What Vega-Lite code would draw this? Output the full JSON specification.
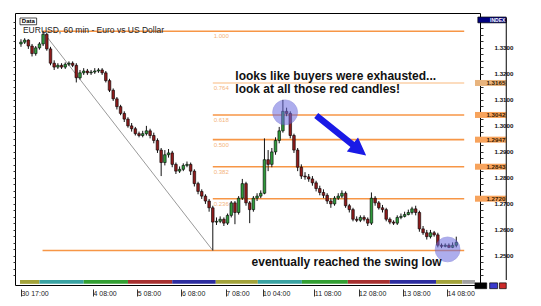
{
"$schema":"https://vega.github.io/schema/vega-lite/v6.json",
"width":465,"height":272,
"autosize":{"type":"none"},
"padding":{"left":15,"top":13,"right":61,"bottom":21},
"background":"white",
"config":{"view":{"stroke":"#000","strokeWidth":1},"font":"Liberation Sans"},
"resolve":{"scale":{"color":"independent"},"axis":{"x":"independent","y":"independent"}},
"datasets":{
"candles":[
{"i":0,"o":1.3315,"h":1.3333,"l":1.3304,"c":1.3322},
{"i":2,"o":1.3322,"h":1.3337,"l":1.3315,"c":1.3330},
{"i":4,"o":1.3330,"h":1.3333,"l":1.3296,"c":1.3307},
{"i":6,"o":1.3307,"h":1.3315,"l":1.3267,"c":1.3278},
{"i":8,"o":1.3278,"h":1.3307,"l":1.3270,"c":1.3300},
{"i":10,"o":1.3300,"h":1.3322,"l":1.3293,"c":1.3315},
{"i":12,"o":1.3315,"h":1.3364,"l":1.3307,"c":1.3352},
{"i":14,"o":1.3352,"h":1.3359,"l":1.3289,"c":1.3296},
{"i":16,"o":1.3296,"h":1.3304,"l":1.3233,"c":1.3241},
{"i":18,"o":1.3241,"h":1.3252,"l":1.3215,"c":1.3226},
{"i":20,"o":1.3226,"h":1.3241,"l":1.3219,"c":1.3233},
{"i":22,"o":1.3233,"h":1.3241,"l":1.3219,"c":1.3226},
{"i":24,"o":1.3226,"h":1.3244,"l":1.3219,"c":1.3237},
{"i":26,"o":1.3237,"h":1.3248,"l":1.3230,"c":1.3241},
{"i":28,"o":1.3241,"h":1.3248,"l":1.3226,"c":1.3233},
{"i":30,"o":1.3233,"h":1.3241,"l":1.3167,"c":1.3185},
{"i":32,"o":1.3185,"h":1.3215,"l":1.3178,"c":1.3204},
{"i":34,"o":1.3204,"h":1.3222,"l":1.3196,"c":1.3211},
{"i":36,"o":1.3211,"h":1.3219,"l":1.3196,"c":1.3204},
{"i":38,"o":1.3204,"h":1.3215,"l":1.3196,"c":1.3207},
{"i":40,"o":1.3207,"h":1.3222,"l":1.3200,"c":1.3211},
{"i":42,"o":1.3211,"h":1.3222,"l":1.3204,"c":1.3215},
{"i":44,"o":1.3215,"h":1.3222,"l":1.3196,"c":1.3204},
{"i":46,"o":1.3204,"h":1.3211,"l":1.3167,"c":1.3174},
{"i":48,"o":1.3174,"h":1.3181,"l":1.3130,"c":1.3137},
{"i":50,"o":1.3137,"h":1.3144,"l":1.3096,"c":1.3104},
{"i":52,"o":1.3104,"h":1.3111,"l":1.3063,"c":1.3074},
{"i":54,"o":1.3074,"h":1.3081,"l":1.3041,"c":1.3048},
{"i":56,"o":1.3048,"h":1.3056,"l":1.3015,"c":1.3026},
{"i":58,"o":1.3026,"h":1.3033,"l":1.2993,"c":1.3000},
{"i":60,"o":1.3000,"h":1.3011,"l":1.2978,"c":1.2989},
{"i":62,"o":1.2989,"h":1.2996,"l":1.2963,"c":1.2970},
{"i":64,"o":1.2970,"h":1.2978,"l":1.2956,"c":1.2963},
{"i":66,"o":1.2963,"h":1.2981,"l":1.2956,"c":1.2970},
{"i":68,"o":1.2970,"h":1.3000,"l":1.2963,"c":1.2981},
{"i":70,"o":1.2981,"h":1.2989,"l":1.2952,"c":1.2963},
{"i":72,"o":1.2963,"h":1.2974,"l":1.2933,"c":1.2944},
{"i":74,"o":1.2944,"h":1.2952,"l":1.2896,"c":1.2907},
{"i":76,"o":1.2907,"h":1.2915,"l":1.2807,"c":1.2859},
{"i":78,"o":1.2859,"h":1.2907,"l":1.2848,"c":1.2889},
{"i":80,"o":1.2889,"h":1.2911,"l":1.2878,"c":1.2896},
{"i":82,"o":1.2896,"h":1.2904,"l":1.2841,"c":1.2852},
{"i":84,"o":1.2852,"h":1.2859,"l":1.2815,"c":1.2826},
{"i":86,"o":1.2826,"h":1.2844,"l":1.2819,"c":1.2833},
{"i":88,"o":1.2833,"h":1.2856,"l":1.2826,"c":1.2848},
{"i":90,"o":1.2848,"h":1.2863,"l":1.2841,"c":1.2852},
{"i":92,"o":1.2852,"h":1.2859,"l":1.2811,"c":1.2826},
{"i":94,"o":1.2826,"h":1.2833,"l":1.2767,"c":1.2778},
{"i":96,"o":1.2778,"h":1.2785,"l":1.2737,"c":1.2748},
{"i":98,"o":1.2748,"h":1.2756,"l":1.2719,"c":1.2730},
{"i":100,"o":1.2730,"h":1.2737,"l":1.2700,"c":1.2711},
{"i":102,"o":1.2711,"h":1.2719,"l":1.2670,"c":1.2685},
{"i":104,"o":1.2685,"h":1.2693,"l":1.2521,"c":1.2630},
{"i":106,"o":1.2630,"h":1.2648,"l":1.2619,"c":1.2633},
{"i":108,"o":1.2633,"h":1.2652,"l":1.2626,"c":1.2641},
{"i":110,"o":1.2641,"h":1.2648,"l":1.2615,"c":1.2626},
{"i":112,"o":1.2626,"h":1.2663,"l":1.2619,"c":1.2656},
{"i":114,"o":1.2656,"h":1.2711,"l":1.2648,"c":1.2704},
{"i":116,"o":1.2704,"h":1.2711,"l":1.2622,"c":1.2667},
{"i":118,"o":1.2667,"h":1.2730,"l":1.2659,"c":1.2722},
{"i":120,"o":1.2722,"h":1.2796,"l":1.2715,"c":1.2778},
{"i":122,"o":1.2778,"h":1.2785,"l":1.2693,"c":1.2704},
{"i":124,"o":1.2704,"h":1.2711,"l":1.2626,"c":1.2678},
{"i":126,"o":1.2678,"h":1.2730,"l":1.2670,"c":1.2722},
{"i":128,"o":1.2722,"h":1.2741,"l":1.2711,"c":1.2730},
{"i":130,"o":1.2730,"h":1.2752,"l":1.2722,"c":1.2741},
{"i":132,"o":1.2741,"h":1.2952,"l":1.2737,"c":1.2870},
{"i":134,"o":1.2870,"h":1.2907,"l":1.2826,"c":1.2852},
{"i":136,"o":1.2852,"h":1.2915,"l":1.2841,"c":1.2900},
{"i":138,"o":1.2900,"h":1.2956,"l":1.2889,"c":1.2944},
{"i":140,"o":1.2944,"h":1.2996,"l":1.2933,"c":1.2981},
{"i":142,"o":1.2981,"h":1.3100,"l":1.2974,"c":1.3056},
{"i":144,"o":1.3056,"h":1.3070,"l":1.3037,"c":1.3048},
{"i":146,"o":1.3048,"h":1.3056,"l":1.2952,"c":1.2963},
{"i":148,"o":1.2963,"h":1.2970,"l":1.2896,"c":1.2907},
{"i":150,"o":1.2907,"h":1.2915,"l":1.2826,"c":1.2841},
{"i":152,"o":1.2841,"h":1.2852,"l":1.2796,"c":1.2807},
{"i":154,"o":1.2807,"h":1.2822,"l":1.2793,"c":1.2804},
{"i":156,"o":1.2804,"h":1.2815,"l":1.2785,"c":1.2796},
{"i":158,"o":1.2796,"h":1.2807,"l":1.2770,"c":1.2781},
{"i":160,"o":1.2781,"h":1.2789,"l":1.2748,"c":1.2759},
{"i":162,"o":1.2759,"h":1.2770,"l":1.2733,"c":1.2744},
{"i":164,"o":1.2744,"h":1.2756,"l":1.2722,"c":1.2733},
{"i":166,"o":1.2733,"h":1.2741,"l":1.2700,"c":1.2711},
{"i":168,"o":1.2711,"h":1.2722,"l":1.2685,"c":1.2700},
{"i":170,"o":1.2700,"h":1.2730,"l":1.2693,"c":1.2722},
{"i":172,"o":1.2722,"h":1.2741,"l":1.2715,"c":1.2730},
{"i":174,"o":1.2730,"h":1.2752,"l":1.2722,"c":1.2741},
{"i":176,"o":1.2741,"h":1.2748,"l":1.2685,"c":1.2693},
{"i":178,"o":1.2693,"h":1.2700,"l":1.2667,"c":1.2678},
{"i":180,"o":1.2678,"h":1.2685,"l":1.2633,"c":1.2641},
{"i":182,"o":1.2641,"h":1.2652,"l":1.2630,"c":1.2637},
{"i":184,"o":1.2637,"h":1.2656,"l":1.2630,"c":1.2648},
{"i":186,"o":1.2648,"h":1.2656,"l":1.2633,"c":1.2641},
{"i":188,"o":1.2641,"h":1.2648,"l":1.2615,"c":1.2626},
{"i":190,"o":1.2626,"h":1.2744,"l":1.2619,"c":1.2722},
{"i":192,"o":1.2722,"h":1.2730,"l":1.2693,"c":1.2704},
{"i":194,"o":1.2704,"h":1.2711,"l":1.2678,"c":1.2685},
{"i":196,"o":1.2685,"h":1.2696,"l":1.2667,"c":1.2678},
{"i":198,"o":1.2678,"h":1.2685,"l":1.2633,"c":1.2641},
{"i":200,"o":1.2641,"h":1.2648,"l":1.2622,"c":1.2630},
{"i":202,"o":1.2630,"h":1.2637,"l":1.2619,"c":1.2626},
{"i":204,"o":1.2626,"h":1.2656,"l":1.2619,"c":1.2648},
{"i":206,"o":1.2648,"h":1.2663,"l":1.2641,"c":1.2652},
{"i":208,"o":1.2652,"h":1.2670,"l":1.2648,"c":1.2659},
{"i":210,"o":1.2659,"h":1.2678,"l":1.2656,"c":1.2667},
{"i":212,"o":1.2667,"h":1.2689,"l":1.2659,"c":1.2681},
{"i":214,"o":1.2681,"h":1.2693,"l":1.2656,"c":1.2667},
{"i":216,"o":1.2667,"h":1.2674,"l":1.2593,"c":1.2604},
{"i":218,"o":1.2604,"h":1.2615,"l":1.2581,"c":1.2589},
{"i":220,"o":1.2589,"h":1.2600,"l":1.2563,"c":1.2574},
{"i":222,"o":1.2574,"h":1.2600,"l":1.2567,"c":1.2589},
{"i":224,"o":1.2589,"h":1.2596,"l":1.2574,"c":1.2581},
{"i":226,"o":1.2581,"h":1.2589,"l":1.2533,"c":1.2541},
{"i":228,"o":1.2541,"h":1.2548,"l":1.2530,"c":1.2537},
{"i":230,"o":1.2537,"h":1.2548,"l":1.2533,"c":1.2541},
{"i":232,"o":1.2541,"h":1.2548,"l":1.2530,"c":1.2533},
{"i":234,"o":1.2533,"h":1.2552,"l":1.2530,"c":1.2541},
{"i":236,"o":1.2541,"h":1.2574,"l":1.2533,"c":1.2552}
],
"band":[
{"x1":-0.53,"x2":10,"day":"fri"},{"x1":10,"x2":34,"day":"mon"},{"x1":34,"x2":58,"day":"tue"},{"x1":58,"x2":82,"day":"wed"},{"x1":82,"x2":105.6,"day":"thu"},{"x1":105.6,"x2":128.4,"day":"fri"},{"x1":128.4,"x2":152.3,"day":"mon"},{"x1":152.3,"x2":177.2,"day":"tue"},{"x1":177.2,"x2":200,"day":"wed"},{"x1":200,"x2":225,"day":"thu"},{"x1":225,"x2":239.3,"day":"fri"},{"x1":239.3,"x2":246.15,"day":"fut"}
],
"fib":[
{"level":"1.000","price":1.3364,"x1":11.7,"x2":240.3},
{"level":"0.764","price":1.3165,"x1":104,"x2":240.3},
{"level":"0.618","price":1.3042,"x1":104,"x2":240.3},
{"level":"0.500","price":1.2947,"x1":104,"x2":240.3},
{"level":"0.382","price":1.2843,"x1":104,"x2":240.3},
{"level":"0.236","price":1.2720,"x1":104,"x2":240.3},
{"level":"0.000","price":1.2521,"x1":11.7,"x2":240.3}
],
"tags":[
{"level":"0.764","price":1.3165,"t":"1.3165"},
{"level":"0.618","price":1.3042,"t":"1.3042"},
{"level":"0.500","price":1.2947,"t":"1.2947"},
{"level":"0.382","price":1.2843,"t":"1.2843"},
{"level":"0.236","price":1.2720,"t":"1.2720"}
],
"trend":[{"x1":11.7,"p1":1.3364,"x2":104,"p2":1.2521}],
"circles":[{"x":143.2,"p":1.3052},{"x":231.3,"p":1.2525}],
"arrow":[{"x":173.6,"p":1.2963}],
"notes":[
{"t":"looks like buyers were exhausted...","x":116.2,"p":1.31767},
{"t":"look at all those red candles!","x":116.2,"p":1.3127},
{"t":"eventually reached the swing low","x":125.0,"p":1.2463}
],
"boxes":[
{"kind":"index","x1":247.7,"x2":263.1,"p1":1.34185,"p2":1.33963},
{"kind":"data","x1":-0.53,"x2":8.49,"p1":1.34148,"p2":1.33889},
{"kind":"black","x1":246.15,"x2":252.5,"p1":1.23963,"p2":1.23741},
{"kind":"blue","x1":254.1,"x2":258.4,"p1":1.23963,"p2":1.23741},
{"kind":"red","x1":259.4,"x2":263.1,"p1":1.23963,"p2":1.23741}
]
},
"layer":[
{"data":{"name":"band"},"mark":{"type":"rect"},
"encoding":{
"x":{"field":"x1","type":"quantitative","scale":{"domain":[-0.53,246.15],"nice":false,"zero":false},
 "axis":{"values":[0,39,63,87,111,131,159,183,207,231],"labelExpr":"datum.value==0?'30 17:00':datum.value==39?'4 08:00':datum.value==63?'5 08:00':datum.value==87?'6 08:00':datum.value==111?'7 08:00':datum.value==131?'10 04:00':datum.value==159?'11 08:00':datum.value==183?'12 08:00':datum.value==207?'13 08:00':'14 08:00'",
 "title":null,"domain":false,"grid":false,"offset":4,"tickSize":7,"tickColor":"#333","labelPadding":-7,"labelAlign":"left","labelDx":2,"labelBaseline":"top","labelFontSize":7,"labelColor":"#222","labelOverlap":false,"labelFlush":false}},
"x2":{"field":"x2"},
"y":{"datum":1.24074,"type":"quantitative","scale":{"domain":[1.24074,1.34148],"nice":false,"zero":false},"axis":null},
"y2":{"datum":1.23926},
"color":{"field":"day","type":"nominal","scale":{"domain":["fri","mon","tue","wed","thu","fut"],"range":["#a3a33a","#3aa3a3","#33a033","#a83030","#2d2da0","#a0a0a0"]},"legend":null}}},
{"data":{"name":"fib"},"mark":{"type":"rule","strokeWidth":1.6},
"encoding":{
"x":{"field":"x1","type":"quantitative","scale":{"domain":[-0.53,246.15],"nice":false,"zero":false},"axis":null},
"x2":{"field":"x2"},
"y":{"field":"price","type":"quantitative","scale":{"domain":[1.24074,1.34148],"nice":false,"zero":false},"axis":null},
"color":{"field":"level","type":"nominal","scale":{"domain":["1.000","0.764","0.618","0.500","0.382","0.236","0.000"],"range":["#f79646","#fbd0a8","#f79646","#f79646","#f79646","#f79646","#f79646"]},"legend":null}}},
{"data":{"name":"trend"},"mark":{"type":"rule","color":"#9a9a9a","strokeWidth":1},
"encoding":{
"x":{"field":"x1","type":"quantitative","scale":{"domain":[-0.53,246.15],"nice":false,"zero":false},"axis":null},
"x2":{"field":"x2"},
"y":{"field":"p1","type":"quantitative","scale":{"domain":[1.24074,1.34148],"nice":false,"zero":false},"axis":null},
"y2":{"field":"p2"}}},
{"data":{"name":"fib"},"transform":[{"filter":"datum.level != '0.000'"}],
"mark":{"type":"text","align":"left","baseline":"middle","dy":5,"fontSize":6,"color":"#f4b47c"},
"encoding":{
"x":{"datum":104.5,"type":"quantitative","scale":{"domain":[-0.53,246.15],"nice":false,"zero":false},"axis":null},
"y":{"field":"price","type":"quantitative","scale":{"domain":[1.24074,1.34148],"nice":false,"zero":false},"axis":null},
"text":{"field":"level"}}},
{"data":{"name":"candles"},"mark":{"type":"rule","color":"#111","strokeWidth":1},
"encoding":{
"x":{"field":"i","type":"quantitative","scale":{"domain":[-0.53,246.15],"nice":false,"zero":false},"axis":null},
"y":{"field":"l","type":"quantitative","scale":{"domain":[1.24074,1.34148],"nice":false,"zero":false},
 "axis":{"orient":"left","values":[1.2425,1.245,1.2475,1.25,1.2525,1.255,1.2575,1.26,1.2625,1.265,1.2675,1.27,1.2725,1.275,1.2775,1.28,1.2825,1.285,1.2875,1.29,1.2925,1.295,1.2975,1.3,1.3025,1.305,1.3075,1.31,1.3125,1.315,1.3175,1.32,1.3225,1.325,1.3275,1.33,1.3325,1.335,1.3375,1.34],"labels":false,"domain":false,"grid":false,"tickSize":2,"tickColor":"#333","title":null}},
"y2":{"field":"h"}}},
{"data":{"name":"candles"},"mark":{"type":"bar","size":2.6,"stroke":"#000","strokeWidth":0.6},
"encoding":{
"x":{"field":"i","type":"quantitative","scale":{"domain":[-0.53,246.15],"nice":false,"zero":false},"axis":null},
"y":{"field":"o","type":"quantitative","scale":{"domain":[1.24074,1.34148],"nice":false,"zero":false},
 "axis":{"orient":"right","values":[1.2425,1.245,1.2475,1.25,1.2525,1.255,1.2575,1.26,1.2625,1.265,1.2675,1.27,1.2725,1.275,1.2775,1.28,1.2825,1.285,1.2875,1.29,1.2925,1.295,1.2975,1.3,1.3025,1.305,1.3075,1.31,1.3125,1.315,1.3175,1.32,1.3225,1.325,1.3275,1.33,1.3325,1.335,1.3375],
 "labelExpr":"abs(datum.value*100 - round(datum.value*100)) < 0.01 ? format(datum.value, '.4f') : ''","labelOverlap":false,"labelFlush":false,
 "domain":false,"grid":false,"tickSize":3,"tickColor":"#333","labelPadding":11,"labelFontSize":6.2,"labelFontWeight":"bold","labelColor":"#111","title":null}},
"y2":{"field":"c"},
"fill":{"condition":{"test":"datum.c > datum.o","value":"#2e9a3a"},"value":"#8e1b1b"}}},
{"data":{"name":"circles"},"mark":{"type":"point","shape":"circle","filled":true,"size":620,"color":"#6b6bdf","opacity":0.55,"stroke":"#5555cc","strokeWidth":1,"strokeOpacity":0.7},
"encoding":{
"x":{"field":"x","type":"quantitative","scale":{"domain":[-0.53,246.15],"nice":false,"zero":false},"axis":null},
"y":{"field":"p","type":"quantitative","scale":{"domain":[1.24074,1.34148],"nice":false,"zero":false},"axis":null}}},
{"data":{"name":"arrow"},"mark":{"type":"point","shape":"M-1,-0.1L0.45,-0.1L0.45,-0.28L1,0L0.45,0.28L0.45,0.1L-1,0.1Z","filled":true,"size":4096,"angle":38.7,"color":"#1a1ae6","opacity":1},
"encoding":{
"x":{"field":"x","type":"quantitative","scale":{"domain":[-0.53,246.15],"nice":false,"zero":false},"axis":null},
"y":{"field":"p","type":"quantitative","scale":{"domain":[1.24074,1.34148],"nice":false,"zero":false},"axis":null}}},
{"data":{"name":"notes"},"mark":{"type":"text","align":"left","baseline":"alphabetic","fontSize":12,"fontWeight":"bold","font":"Liberation Sans","color":"#111"},
"encoding":{
"x":{"field":"x","type":"quantitative","scale":{"domain":[-0.53,246.15],"nice":false,"zero":false},"axis":null},
"y":{"field":"p","type":"quantitative","scale":{"domain":[1.24074,1.34148],"nice":false,"zero":false},"axis":null},
"text":{"field":"t"}}},
{"data":{"name":"tags"},"mark":{"type":"bar","orient":"horizontal","size":6},
"encoding":{
"x":{"datum":246.15,"type":"quantitative","scale":{"domain":[-0.53,246.15],"nice":false,"zero":false},"axis":null},
"x2":{"datum":263.1},
"y":{"field":"price","type":"quantitative","scale":{"domain":[1.24074,1.34148],"nice":false,"zero":false},"axis":null},
"color":{"field":"level","type":"nominal","scale":{"domain":["0.764","0.618","0.500","0.382","0.236"],"range":["#e8b47e","#f7a35c","#f7a35c","#f7a35c","#f7a35c"]},"legend":null}}},
{"data":{"name":"tags"},"mark":{"type":"text","align":"right","baseline":"middle","fontSize":6.2,"fontWeight":"bold","color":"#3a2000"},
"encoding":{
"x":{"datum":262.6,"type":"quantitative","scale":{"domain":[-0.53,246.15],"nice":false,"zero":false},"axis":null},
"y":{"field":"price","type":"quantitative","scale":{"domain":[1.24074,1.34148],"nice":false,"zero":false},"axis":null},
"text":{"field":"t"}}},
{"data":{"name":"boxes"},"mark":{"type":"rect","stroke":"#000","strokeWidth":0.7},
"encoding":{
"x":{"field":"x1","type":"quantitative","scale":{"domain":[-0.53,246.15],"nice":false,"zero":false},"axis":null},
"x2":{"field":"x2"},
"y":{"field":"p1","type":"quantitative","scale":{"domain":[1.24074,1.34148],"nice":false,"zero":false},"axis":null},
"y2":{"field":"p2"},
"color":{"field":"kind","type":"nominal","scale":{"domain":["index","data","black","blue","red"],"range":["#000080","#ffffff","#000000","#3a3acc","#cc2a2a"]},"legend":null}}},
{"data":{"values":[{"x":263.1,"p1":1.34148,"p2":1.24074}]},"mark":{"type":"rule","color":"#000","strokeWidth":1},
"encoding":{
"x":{"field":"x","type":"quantitative","scale":{"domain":[-0.53,246.15],"nice":false,"zero":false},"axis":null},
"y":{"field":"p1","type":"quantitative","scale":{"domain":[1.24074,1.34148],"nice":false,"zero":false},"axis":null},
"y2":{"field":"p2"}}},
{"data":{"values":[{"t":"INDEX","x":262.6,"p":1.34074}]},"mark":{"type":"text","align":"right","baseline":"middle","fontSize":5,"fontWeight":"bold","color":"#ffffff"},
"encoding":{
"x":{"field":"x","type":"quantitative","scale":{"domain":[-0.53,246.15],"nice":false,"zero":false},"axis":null},
"y":{"field":"p","type":"quantitative","scale":{"domain":[1.24074,1.34148],"nice":false,"zero":false},"axis":null},
"text":{"field":"t"}}},
{"data":{"values":[{"t":"Data","x":3.98,"p":1.34019}]},"mark":{"type":"text","align":"center","baseline":"middle","fontSize":6,"fontWeight":"bold","color":"#000"},
"encoding":{
"x":{"field":"x","type":"quantitative","scale":{"domain":[-0.53,246.15],"nice":false,"zero":false},"axis":null},
"y":{"field":"p","type":"quantitative","scale":{"domain":[1.24074,1.34148],"nice":false,"zero":false},"axis":null},
"text":{"field":"t"}}},
{"data":{"values":[{"t":"EURUSD, 60 min - Euro vs US Dollar","x":1.06,"p":1.33685}]},"mark":{"type":"text","align":"left","baseline":"middle","fontSize":8.5,"color":"#222"},
"encoding":{
"x":{"field":"x","type":"quantitative","scale":{"domain":[-0.53,246.15],"nice":false,"zero":false},"axis":null},
"y":{"field":"p","type":"quantitative","scale":{"domain":[1.24074,1.34148],"nice":false,"zero":false},"axis":null},
"text":{"field":"t"}}}
]
}
